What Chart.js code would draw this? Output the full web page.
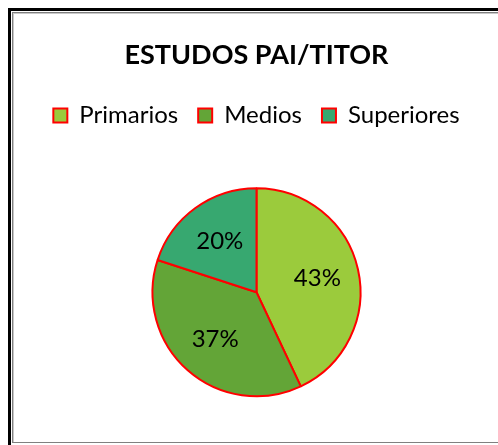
<!DOCTYPE html>
<html>
<head>
<meta charset="utf-8">
<script src="https://cdn.jsdelivr.net/npm/chart.js@4.4.1/dist/chart.umd.min.js"></script>
<style>
    html, body { margin: 0; padding: 0; background: #fff; overflow: hidden; }
    .frame-outer {
        position: absolute; left: 8px; top: 8px; width: 600px; height: 460px;
        border-left: 3px solid #000; border-top: 3px solid #000;
    }
    .frame-inner {
        position: absolute; left: 1px; top: 1px; width: 600px; height: 429px;
        border-left: 1px solid #808080; border-top: 1px solid #808080; border-bottom: 1px solid #808080;
        box-shadow: inset 1px 1px 0 #c8c8c8;
    }
    #wrap { position: absolute; left: 15px; top: 15px; width: 483px; height: 432px; }
</style>
</head>
<body>
<div class="frame-outer"><div class="frame-inner"></div></div>
<div id="wrap"><canvas id="chart"></canvas></div>
<script>
// Data
const categories = ['Primarios', 'Medios', 'Superiores'];
const percentages = [43, 37, 20];
const sliceColors = ['#9BCB3C', '#63A537', '#37A870'];

// Percent labels inside the slices
const sliceLabels = {
    id: 'sliceLabels',
    afterDatasetsDraw(chart) {
        const ctx = chart.ctx;
        const meta = chart.getDatasetMeta(0);
        ctx.save();
        ctx.font = '24px Lato';
        ctx.fillStyle = '#000';
        ctx.textAlign = 'center';
        ctx.textBaseline = 'middle';
        meta.data.forEach((arc, i) => {
            const mid = (arc.startAngle + arc.endAngle) / 2;
            const r = arc.outerRadius * 0.6;
            const x = arc.x + Math.cos(mid) * r;
            const y = arc.y + Math.sin(mid) * r;
            ctx.fillText(percentages[i] + '%', x, y);
        });
        ctx.restore();
    }
};

new Chart(document.getElementById('chart'), {
    type: 'pie',
    data: {
        labels: categories,
        datasets: [{
            data: percentages,
            backgroundColor: sliceColors,
            borderColor: '#FF0000',
            borderWidth: 2
        }]
    },
    options: {
        responsive: true,
        maintainAspectRatio: false,
        animation: false,
        radius: 104,
        layout: { padding: { bottom: 0 } },
        plugins: {
            title: {
                display: true,
                text: 'ESTUDOS PAI/TITOR',
                color: '#000',
                font: { family: 'Lato', size: 27, weight: 'bold' },
                padding: { top: 24, bottom: 12 }
            },
            legend: {
                position: 'top',
                labels: {
                    color: '#000',
                    font: { family: 'Lato', size: 24 },
                    boxWidth: 14,
                    boxHeight: 14,
                    padding: 20
                }
            },
            tooltip: { enabled: false }
        }
    },
    plugins: [sliceLabels]
});
</script>
</body>
</html>
